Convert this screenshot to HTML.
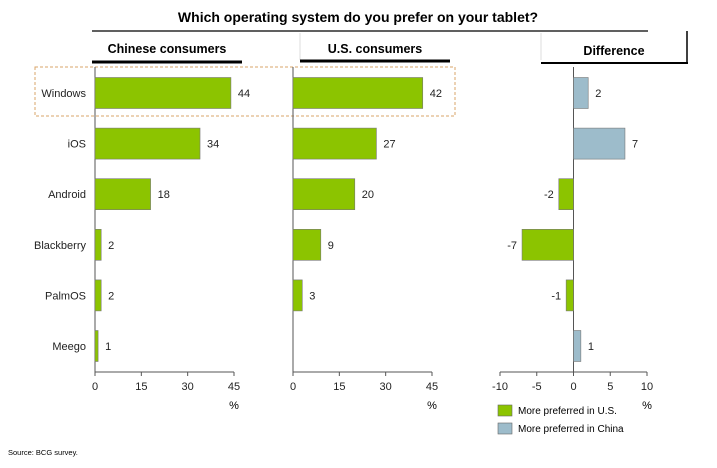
<!DOCTYPE html>
<html><head><meta charset="utf-8"><style>
body{margin:0;background:#fff;font-family:"Liberation Sans",Arial,sans-serif}
svg text{font-family:"Liberation Sans",Arial,sans-serif}
</style></head><body>
<svg id="c" width="717" height="463" xmlns="http://www.w3.org/2000/svg">
<text x="358" y="22" text-anchor="middle" font-size="14" font-weight="bold">Which operating system do you prefer on your tablet?</text>
<line x1="92" y1="31" x2="648" y2="31" stroke="#000" stroke-width="1.2"/>
<line x1="300" y1="33" x2="300" y2="60" stroke="#ddd"/>
<line x1="541" y1="33" x2="541" y2="60" stroke="#ddd"/>
<line x1="687" y1="31" x2="687" y2="64" stroke="#000" stroke-width="1.5"/>
<text x="167" y="53" text-anchor="middle" font-size="12.5" font-weight="bold">Chinese consumers</text>
<line x1="92" y1="62" x2="242" y2="62" stroke="#000" stroke-width="3"/>
<text x="375" y="53" text-anchor="middle" font-size="12.5" font-weight="bold">U.S. consumers</text>
<line x1="300" y1="61" x2="450" y2="61" stroke="#000" stroke-width="3"/>
<text x="614" y="55" text-anchor="middle" font-size="12.5" font-weight="bold">Difference</text>
<line x1="541" y1="63" x2="688" y2="63" stroke="#000" stroke-width="2"/>
<rect x="35" y="67" width="420" height="49" fill="none" stroke="#d9a46a" stroke-dasharray="3,2"/>
<g id="g"></g>
<rect x="498" y="405" width="14" height="11" fill="#8cc400" stroke="#666" stroke-width="0.6"/>
<text x="518" y="414" font-size="10">More preferred in U.S.</text>
<rect x="498" y="423" width="14" height="11" fill="#9dbccb" stroke="#666" stroke-width="0.6"/>
<text x="518" y="432" font-size="10">More preferred in China</text>
<text x="8" y="455" font-size="7.5">Source: BCG survey.</text>
</svg>
<script>
const categories=["Windows","iOS","Android","Blackberry","PalmOS","Meego"];
const chinaValues=[44,34,18,2,2,1];
const usValues=[42,27,20,9,3,null];
const diffValues=[2,7,-2,-7,-1,1];
const pctTicks=[0,15,30,45];
const diffTicks=[-10,-5,0,5,10];
const NS="http://www.w3.org/2000/svg";
const g=document.getElementById('g');
function el(t,a,txt){const e=document.createElementNS(NS,t);for(const k in a)e.setAttribute(k,a[k]);if(txt!==undefined)e.textContent=txt;g.appendChild(e);return e;}
const rowY=i=>93+i*50.6;
const topY=67,axisY=372,barH=31;
const panels=[
 {vals:chinaValues,x0:95,x1:234,min:0,max:45,ticks:pctTicks,name:'china'},
 {vals:usValues,x0:293,x1:432,min:0,max:45,ticks:pctTicks,name:'us'},
 {vals:diffValues,x0:500,x1:647,min:-10,max:10,ticks:diffTicks,name:'difference'}
];
panels.forEach(p=>{
 const sx=v=>p.x0+(v-p.min)/(p.max-p.min)*(p.x1-p.x0);
 const zx=sx(0);
 let e=el('line',{x1:p.x0,y1:axisY,x2:p.x1,y2:axisY,stroke:'#555','stroke-width':1});
 
 
 e=el('line',{x1:zx,y1:topY,x2:zx,y2:axisY,stroke:'#555','stroke-width':1});
 
 
 p.ticks.forEach(t=>{
  const x=sx(t);
  let l=el('line',{x1:x,y1:axisY,x2:x,y2:axisY+4,stroke:'#555'});
  
  
  let tx=el('text',{x:x,y:axisY+18,'text-anchor':'middle','font-size':11,fill:'#222'},String(t));
  
  
 });
 let u=el('text',{x:p.x1,y:axisY+37,'text-anchor':'middle','font-size':11},'%');
 
 
 p.vals.forEach((v,i)=>{
  if(v===null)return;
  const y=rowY(i);
  const a=Math.min(sx(v),zx),w=Math.max(Math.abs(sx(v)-zx),1.5);
  const fill=p.name==='difference'?(v>=0?'#9dbccb':'#8cc400'):'#8cc400';
  const r=el('rect',{x:a,y:y-barH/2,width:w,height:barH,fill:fill,stroke:'#777','stroke-width':0.6});
  
  
  const lx=v>=0?sx(v)+7:sx(v)-5;
  const t=el('text',{x:lx,y:y+4,'text-anchor':v>=0?'start':'end','font-size':11,fill:'#222'},String(v));
  
  
 });
});
categories.forEach((c,i)=>{
 const t=el('text',{x:86,y:rowY(i)+4,'text-anchor':'end','font-size':11,fill:'#222'},c);
 
 
});
</script>
</body></html>
